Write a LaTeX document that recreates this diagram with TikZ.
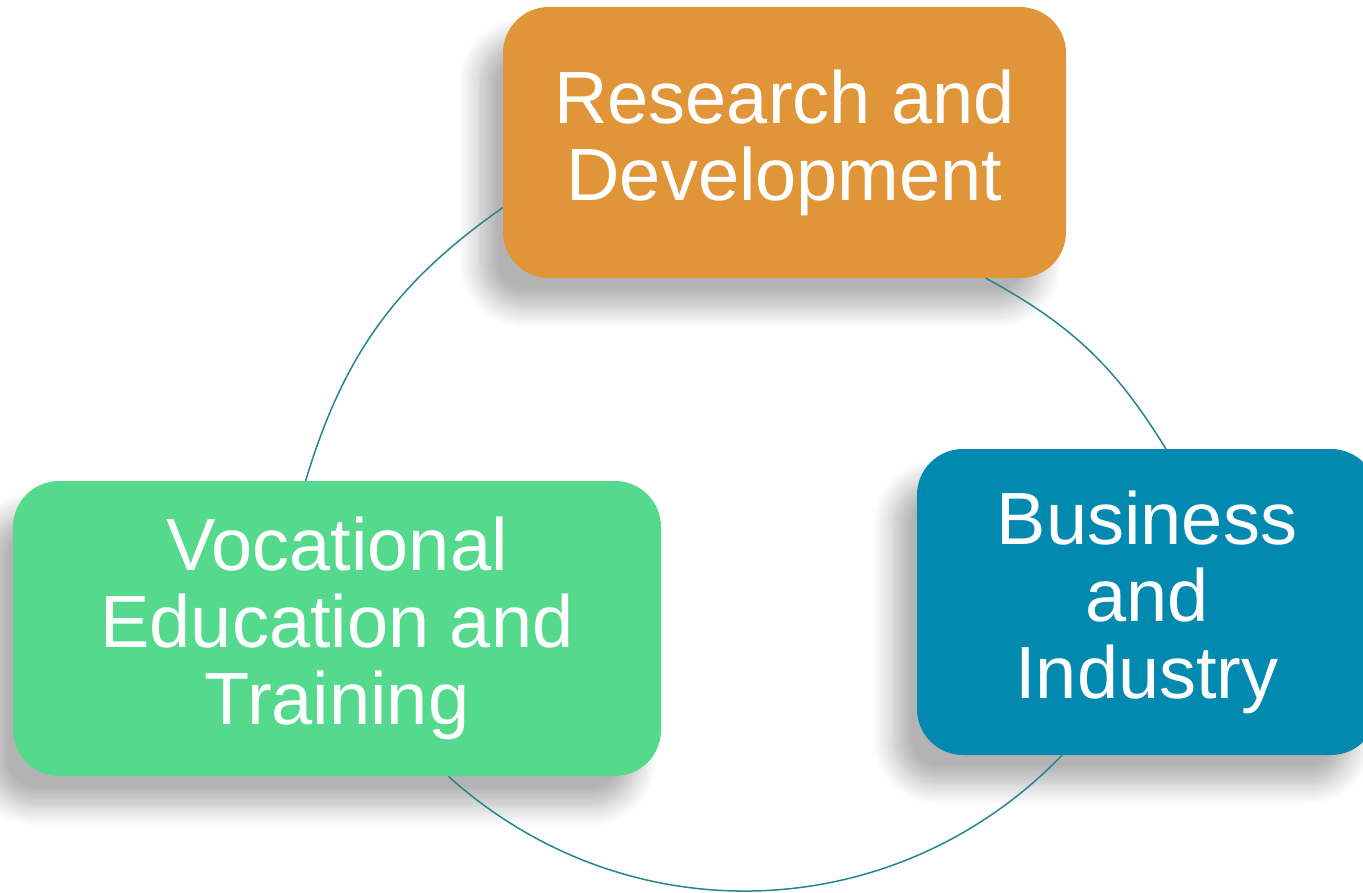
\documentclass[tikz,border=0pt]{standalone}
\usepackage{fontspec}
\setmainfont{Liberation Sans}
\usetikzlibrary{shadows.blur}
\definecolor{rdorange}{RGB}{225,149,57}
\definecolor{biteal}{RGB}{2,137,175}
\definecolor{vetgreen}{RGB}{84,217,141}
\definecolor{linkteal}{RGB}{36,134,142}
\begin{document}
\begin{tikzpicture}[x=1pt,y=-1pt,
  box/.style={rectangle, rounded corners=46pt, text=white, align=center,
    font=\fontsize{74}{77}\selectfont, inner sep=0pt,
    blur shadow={shadow xshift=-24pt, shadow yshift=-30pt,
      shadow blur radius=20pt, shadow blur steps=12, shadow opacity=30}},
  link/.style={draw=linkteal, line width=1.5pt}]
\useasboundingbox (0,0) rectangle (1363,893);
% the three boxes
\node [box, fill=rdorange, minimum width=563pt, minimum height=271pt]
  (rd) at (784.5,142.5) {Research and\\Development};
\node [box, fill=biteal, minimum width=460pt, minimum height=306pt]
  (bi) at (1147,602) {Business\\and\\Industry};
\node [box, fill=vetgreen, minimum width=648pt, minimum height=295pt]
  (vet) at (337,628.5) {Vocational\\Education and\\Training};
% arcs between them
\draw [link] (rd.193) to[bend right=19] (vet.102);
\draw [link] (rd.326) to[bend left=15] (bi.83);
\draw [link] (vet.-53) to[bend right=44] (bi.-119);
\end{tikzpicture}
\end{document}
